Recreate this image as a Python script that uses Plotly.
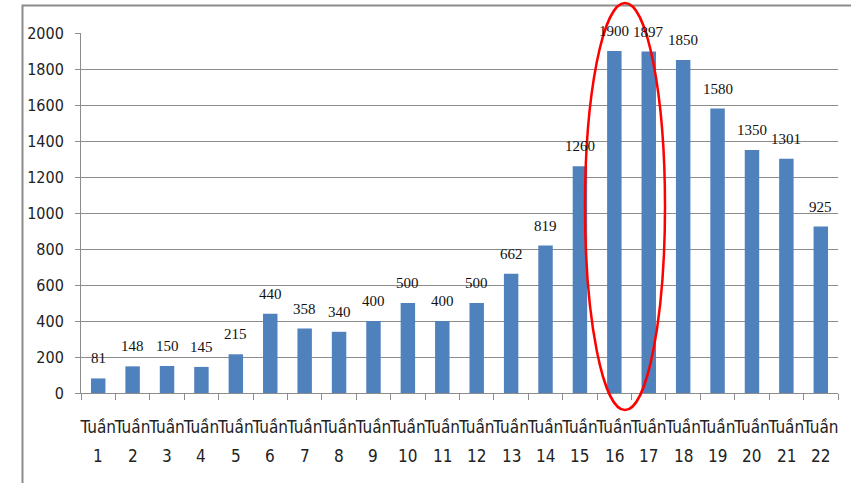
import plotly.graph_objects as go

weeks = [str(i) for i in range(1, 23)]
categories = ["Tuần " + w for w in weeks]
values = [81, 148, 150, 145, 215, 440, 358, 340, 400, 500, 400, 500, 662, 819, 1260, 1900, 1897, 1850, 1580, 1350, 1301, 925]
y_ticks = [0, 200, 400, 600, 800, 1000, 1200, 1400, 1600, 1800, 2000]

AX_FONT = "DejaVu Sans Condensed, Roboto Condensed, Roboto, sans-serif"
LBL_FONT = "Liberation Serif, Times New Roman, serif"

fig = go.Figure()
fig.add_trace(go.Bar(
    x=categories, y=values,
    marker=dict(color="#4F81BD", line=dict(width=0)),
    width=0.42,
    hoverinfo="x+y",
))

annotations = []
for c, v in zip(categories, values):
    annotations.append(dict(
        x=c, y=v, xref="x", yref="y", text=str(v), showarrow=False,
        yanchor="bottom", yshift=10,
        font=dict(family=LBL_FONT, size=15, color="#111111"),
    ))
for c, w in zip(categories, weeks):
    annotations.append(dict(
        x=c, y=0, xref="x", yref="paper", text=w, showarrow=False,
        yanchor="middle", yshift=-63,
        font=dict(family=AX_FONT, size=17, color="#222222"),
    ))

W, H = 851, 483
ml, mr, mt, mb = 81, 13, 33, 90
pw, ph = W - ml - mr, H - mt - mb

def px_x(p):
    return (p - ml) / pw

def px_y(p):
    return (H - mb - p) / ph

shapes = [
    # outer chart frame
    dict(type="rect", xref="paper", yref="paper",
         x0=px_x(22.5), x1=px_x(900), y0=px_y(600), y1=px_y(5.5),
         line=dict(color="#8c8c8c", width=2), fillcolor="rgba(0,0,0,0)", layer="below"),
    # red highlight ellipse
    dict(type="circle", xref="paper", yref="paper",
         x0=px_x(585), x1=px_x(665), y0=px_y(410), y1=px_y(3),
         line=dict(color="#FF0000", width=2.5), fillcolor="rgba(0,0,0,0)", layer="above"),
]

fig.update_layout(
    width=W, height=H,
    margin=dict(l=ml, r=mr, t=mt, b=mb, pad=0),
    paper_bgcolor="white", plot_bgcolor="white",
    showlegend=False,
    bargap=0.58,
    annotations=annotations,
    shapes=shapes,
    xaxis=dict(
        type="category", automargin=False,
        tickmode="array", tickvals=categories, ticktext=["Tuần"] * len(categories),
        tickangle=0,
        tickson="boundaries", ticks="outside", ticklen=6, tickcolor="#8c8c8c",
        showline=True, linecolor="#8c8c8c", linewidth=1,
        showgrid=False,
        tickfont=dict(family=AX_FONT, size=17, color="#222222"),
        ticklabelstandoff=19,
    ),
    yaxis=dict(
        range=[0, 2000], tickmode="array", tickvals=y_ticks, automargin=False,
        ticks="outside", ticklen=5, tickcolor="#8c8c8c",
        showline=True, linecolor="#8c8c8c", linewidth=1,
        showgrid=True, gridcolor="#8c8c8c", gridwidth=1,
        zeroline=False,
        tickfont=dict(family=AX_FONT, size=16, color="#222222"),
        ticklabelstandoff=8,
    ),
)

fig.write_html("out.html")
